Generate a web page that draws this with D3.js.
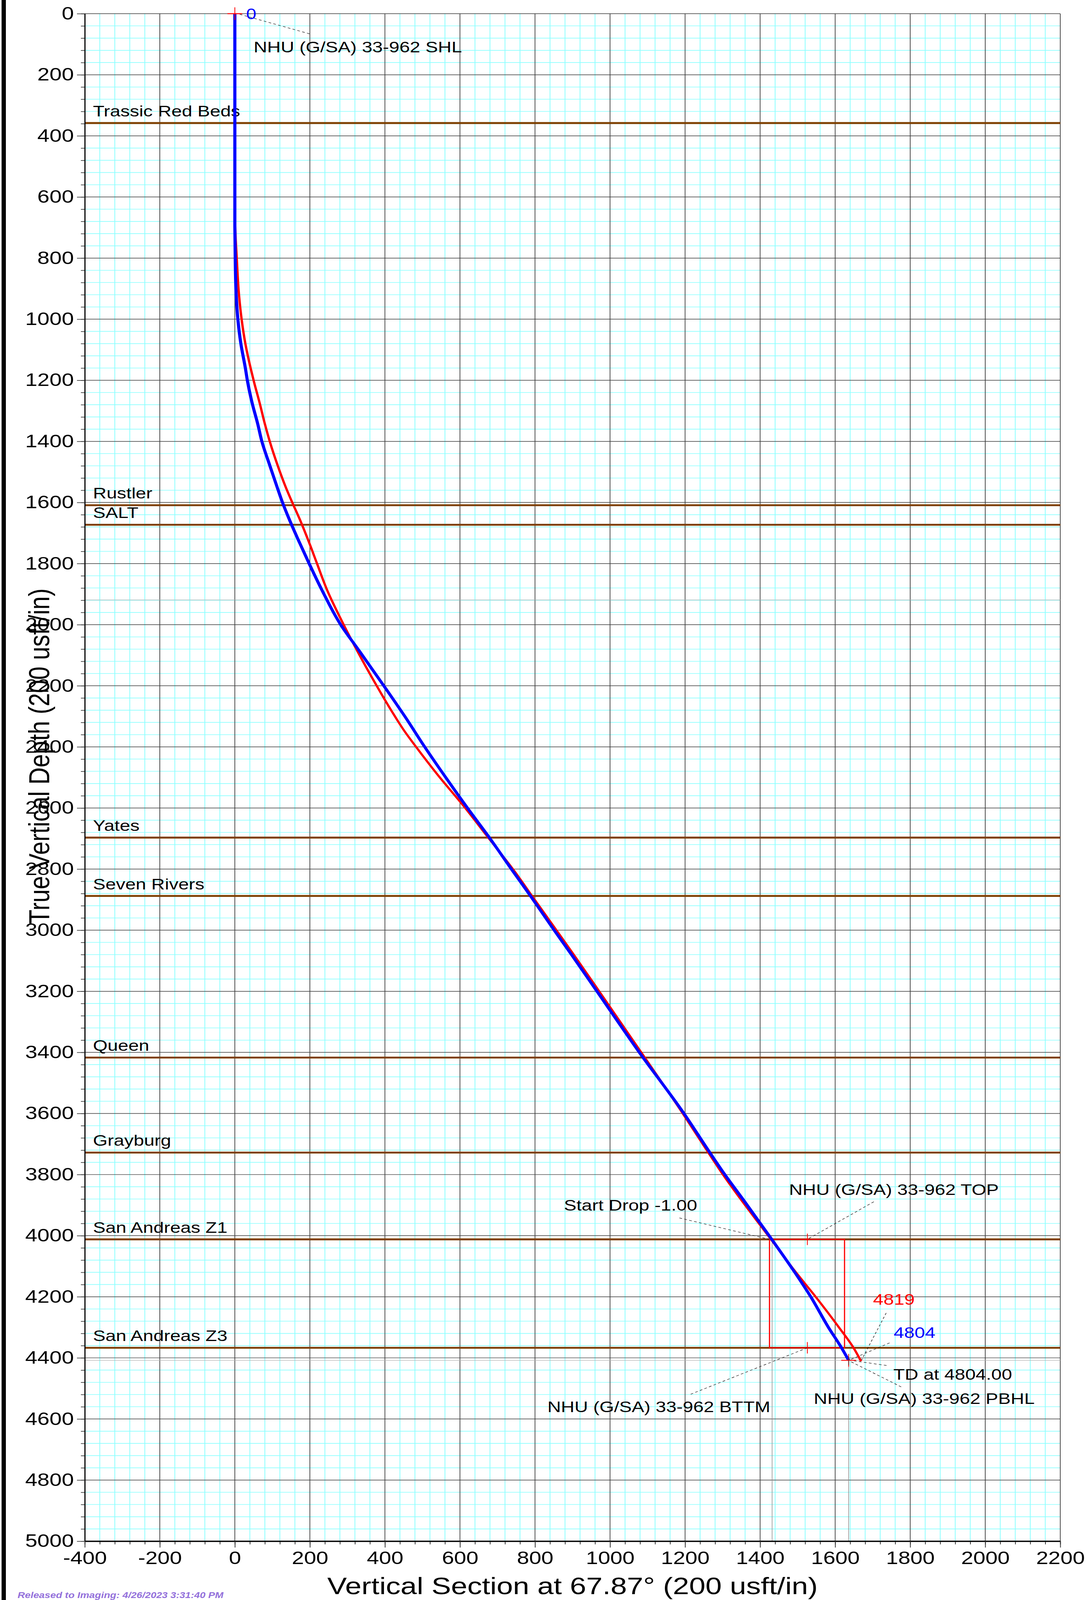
<!DOCTYPE html>
<html>
<head>
<meta charset="utf-8">
<script src="https://cdn.jsdelivr.net/npm/d3@7"></script>
<style>
  html, body { margin: 0; padding: 0; background: #ffffff; overflow: hidden; }
  svg { display: block; }
  text { font-family: "Liberation Sans", Arial, Helvetica, sans-serif; }
</style>
</head>
<body>
<svg id="chart"></svg>
<script>
// ---------------- data ----------------
const xDomain = [-400, 2200];
const yDomain = [0, 5000];
const xMajorTicks = d3.range(-400, 2201, 200);
const yMajorTicks = d3.range(0, 5001, 200);
const xMinorTicks = d3.range(-400, 2201, 40);
const yMinorTicks = d3.range(0, 5001, 40);

// planned wellpath (red): vertical section / TVD
const planVS  = [0, 0, 1, 5, 11, 18, 28, 42, 51, 66, 80, 93, 115, 136, 153, 173, 196, 219, 245, 290, 325, 378, 418, 453, 483, 539, 614, 676, 741, 792, 857, 902, 971, 1083, 1194, 1262, 1301, 1429, 1496, 1548, 1610, 1649, 1669];
const planTVD = [0, 600, 700, 800, 920, 1000, 1080, 1160, 1205, 1274, 1343, 1400, 1482, 1551, 1600, 1655, 1725, 1800, 1884, 2000, 2083, 2200, 2283, 2350, 2400, 2489, 2600, 2698, 2800, 2888, 3000, 3078, 3200, 3400, 3600, 3728, 3800, 4012, 4121, 4200, 4300, 4367, 4411];

// actual wellpath (blue)
const actualVS  = [0, 0, 0, 1, 3.5, 8, 16, 28, 34, 46, 61, 72, 94, 113, 127, 145, 170, 198, 231, 282, 330, 397, 453, 506, 562, 620, 679, 737, 788, 851, 896, 965, 1078, 1197, 1266, 1306, 1355, 1431, 1493, 1535, 1582, 1617, 1636];
const actualTVD = [0, 400, 684, 800, 920, 1000, 1080, 1160, 1205, 1274, 1343, 1400, 1482, 1551, 1600, 1655, 1725, 1800, 1884, 2000, 2083, 2200, 2300, 2400, 2500, 2600, 2698, 2800, 2888, 3000, 3078, 3200, 3400, 3600, 3728, 3800, 3882, 4012, 4121, 4200, 4300, 4367, 4408];

// formation tops
const formationNames = ["Trassic Red Beds", "Rustler", "SALT", "Yates", "Seven Rivers", "Queen", "Grayburg", "San Andreas Z1", "San Andreas Z3"];
const formationTVD   = [358, 1609, 1673, 2697, 2888, 3417, 3728, 4012, 4367];

// target box
const targetVS  = [1425, 1625];
const targetTVD = [4012, 4367];
const targetCenterVS = 1526;

// reference lines
const dropLineVS  = [1432, 1636];
const dropLineTop = [4012, 4408];
const refLineTVD  = [1919, 4408];

// end points
const actualEnd = [1636, 4408];

// annotations
const annText  = ["NHU (G/SA) 33-962 SHL", "Start Drop -1.00", "NHU (G/SA) 33-962 TOP", "4819", "4804", "TD at 4804.00", "NHU (G/SA) 33-962 PBHL", "NHU (G/SA) 33-962 BTTM"];
const annVS    = [50, 877, 1477, 1701, 1756, 1755, 1543, 833];
const annTVD   = [127, 3918, 3867, 4226, 4335, 4471, 4551, 4578];
const annFrom  = [[13, 2], [1185, 3942], [1703, 3889], [1736, 4253], [1745, 4351], [1737, 4425], [1776, 4495], [1215, 4519]];
const annTo    = [[205, 68], [1425, 4012], [1526, 4012], [1670, 4408], [1640, 4406], [1640, 4408], [1638, 4410], [1526, 4367]];
const annColor = ["#000", "#000", "#000", "#ff0000", "#0000ff", "#000", "#000", "#000"];

const startLabel = "0";
const startLabelPos = [30, 18];

const xTitle = "Vertical Section at 67.87° (200 usft/in)";
const yTitle = "True Vertical Depth (200 usft/in)";
const releaseText = "Released to Imaging: 4/26/2023 3:31:40 PM";

// ---------------- layout ----------------
const W = 2785, H = 5031;
const plot = { left: 217, right: 2714, top: 43, bottom: 4846 };

// fit the full drawing into the window that is photographed
const vw = window.innerWidth || W, vh = window.innerHeight || H;
const svg = d3.select("#chart")
  .attr("viewBox", `0 0 ${W} ${H}`)
  .attr("preserveAspectRatio", "none")
  .attr("width", vh < H ? vw : W)
  .attr("height", vh < H ? vh : H);

const x = d3.scaleLinear().domain(xDomain).range([plot.left, plot.right]);
const y = d3.scaleLinear().domain(yDomain).range([plot.top, plot.bottom]);

svg.append("rect").attr("width", W).attr("height", H).attr("fill", "#fff");
svg.append("rect").attr("x", 4).attr("y", 0).attr("width", 11).attr("height", H).attr("fill", "#000");

// minor grid
const g = svg.append("g");
g.selectAll(".vminor").data(xMinorTicks.filter(v => v % 200 !== 0)).join("line")
  .attr("x1", d => x(d)).attr("x2", d => x(d)).attr("y1", plot.top).attr("y2", plot.bottom)
  .attr("stroke", "#8cffff").attr("stroke-width", 2);
g.selectAll(".hminor").data(yMinorTicks.filter(v => v % 200 !== 0)).join("line")
  .attr("y1", d => y(d)).attr("y2", d => y(d)).attr("x1", plot.left).attr("x2", plot.right)
  .attr("stroke", "#8cffff").attr("stroke-width", 2);

// major grid
g.selectAll(".vmajor").data(xMajorTicks).join("line")
  .attr("x1", d => x(d)).attr("x2", d => x(d)).attr("y1", plot.top).attr("y2", plot.bottom)
  .attr("stroke", "#3a3a3a").attr("stroke-width", 1.8);
g.selectAll(".hmajor").data(yMajorTicks).join("line")
  .attr("y1", d => y(d)).attr("y2", d => y(d)).attr("x1", plot.left).attr("x2", plot.right)
  .attr("stroke", "#3a3a3a").attr("stroke-width", 1.8);

// reference lines
g.selectAll(".drop").data(dropLineVS).join("line")
  .attr("x1", d => x(d)).attr("x2", d => x(d))
  .attr("y1", (d, i) => y(dropLineTop[i])).attr("y2", plot.bottom)
  .attr("stroke", "#8a8a8a").attr("stroke-width", 1.5);
g.selectAll(".ref").data(refLineTVD).join("line")
  .attr("y1", d => y(d)).attr("y2", d => y(d)).attr("x1", plot.left).attr("x2", plot.right)
  .attr("stroke", "#b0b0b0").attr("stroke-width", 1.5);

// formation lines and labels
const fg = svg.append("g");
fg.selectAll("line").data(formationTVD).join("line")
  .attr("x1", plot.left).attr("x2", plot.right).attr("y1", d => y(d)).attr("y2", d => y(d))
  .attr("stroke", "#7f3f00").attr("stroke-width", 6);
fg.selectAll("text").data(formationNames).join("text")
  .attr("x", plot.left + 21).attr("y", (d, i) => y(formationTVD[i]) - 21)
  .attr("font-size", 48).attr("fill", "#000").text(d => d);

// target box
svg.append("rect")
  .attr("x", x(targetVS[0])).attr("y", y(targetTVD[0]))
  .attr("width", x(targetVS[1]) - x(targetVS[0])).attr("height", y(targetTVD[1]) - y(targetTVD[0]))
  .attr("fill", "none").attr("stroke", "#ff0000").attr("stroke-width", 3);
svg.selectAll(".tick-t").data(targetTVD).join("line")
  .attr("x1", x(targetCenterVS)).attr("x2", x(targetCenterVS))
  .attr("y1", d => y(d) - 18).attr("y2", d => y(d) + 18)
  .attr("stroke", "#ff0000").attr("stroke-width", 2);

// leaders
svg.selectAll(".leader").data(annFrom).join("line")
  .attr("x1", d => x(d[0])).attr("y1", d => y(d[1]))
  .attr("x2", (d, i) => x(annTo[i][0])).attr("y2", (d, i) => y(annTo[i][1]))
  .attr("stroke", "#222").attr("stroke-width", 1.5).attr("stroke-dasharray", "7,6");

// wells
const line = d3.line().x(d => x(d[0])).y(d => y(d[1])).curve(d3.curveMonotoneY);
const planPts = planVS.map((v, i) => [v, planTVD[i]]);
const actualPts = actualVS.map((v, i) => [v, actualTVD[i]]);
svg.append("path").datum(planPts).attr("d", line)
  .attr("fill", "none").attr("stroke", "#ff0000").attr("stroke-width", 6).attr("stroke-linejoin", "round");
svg.append("path").datum(actualPts).attr("d", line)
  .attr("fill", "none").attr("stroke", "#0000ff").attr("stroke-width", 8).attr("stroke-linejoin", "round");

// markers
function cross(pt, color) {
  svg.append("line").attr("x1", x(pt[0]) - 19).attr("x2", x(pt[0]) + 19)
    .attr("y1", y(pt[1])).attr("y2", y(pt[1])).attr("stroke", color).attr("stroke-width", 3);
  svg.append("line").attr("x1", x(pt[0])).attr("x2", x(pt[0]))
    .attr("y1", y(pt[1]) - 20).attr("y2", y(pt[1]) + 20).attr("stroke", color).attr("stroke-width", 2);
}
cross([0, 0], "#ff0000");
cross(actualEnd, "#ff0000");
svg.append("line").attr("x1", x(actualEnd[0])).attr("x2", x(actualEnd[0]))
  .attr("y1", y(actualEnd[1]) - 12).attr("y2", y(actualEnd[1]) + 15).attr("stroke", "#333").attr("stroke-width", 1.5);

// annotation texts
svg.selectAll(".ann").data(annText).join("text")
  .attr("x", (d, i) => x(annVS[i])).attr("y", (d, i) => y(annTVD[i]))
  .attr("font-size", 48).attr("fill", (d, i) => annColor[i]).text(d => d);
svg.append("text").attr("x", x(startLabelPos[0])).attr("y", y(startLabelPos[1]))
  .attr("font-size", 47).attr("fill", "#0000ff").text(startLabel);

// axes
const fmt = d => String(d);
const yAxisMinor = d3.axisLeft(y).tickValues(yMinorTicks).tickSize(10).tickSizeOuter(0).tickFormat("");
const yAxisMajor = d3.axisLeft(y).tickValues(yMajorTicks).tickSize(20).tickSizeOuter(0).tickPadding(8).tickFormat(fmt);
const xAxisMinor = d3.axisBottom(x).tickValues(xMinorTicks).tickSize(10).tickSizeOuter(0).tickFormat("");
const xAxisMajor = d3.axisBottom(x).tickValues(xMajorTicks).tickSize(20).tickSizeOuter(0).tickPadding(12).tickFormat(fmt);

function styleAxis(sel, w) {
  sel.selectAll("path.domain").attr("stroke", "#000").attr("stroke-width", w);
  sel.selectAll(".tick line").attr("stroke", "#333").attr("stroke-width", 2);
  sel.selectAll(".tick text").attr("font-size", 56).attr("fill", "#000")
    .attr("font-family", '"Liberation Sans", Arial, sans-serif');
}
const ya1 = svg.append("g").attr("transform", `translate(${plot.left},0)`).call(yAxisMinor); styleAxis(ya1, 2.5);
const ya2 = svg.append("g").attr("transform", `translate(${plot.left},0)`).call(yAxisMajor); styleAxis(ya2, 2.5);
const xa1 = svg.append("g").attr("transform", `translate(0,${plot.bottom})`).call(xAxisMinor); styleAxis(xa1, 3.5);
const xa2 = svg.append("g").attr("transform", `translate(0,${plot.bottom})`).call(xAxisMajor); styleAxis(xa2, 3.5);

// titles
svg.append("text").attr("x", (plot.left + plot.right) / 2).attr("y", 5012)
  .attr("text-anchor", "middle").attr("font-size", 75).attr("fill", "#000").text(xTitle);
svg.append("text").attr("transform", "translate(126,2378) rotate(-90)")
  .attr("text-anchor", "middle").attr("font-size", 75).attr("fill", "#000").text(yTitle);

// release stamp
svg.append("text").attr("x", 45).attr("y", 5025)
  .attr("font-family", '"Liberation Serif", "Times New Roman", serif')
  .attr("font-style", "italic").attr("font-weight", "bold")
  .attr("font-size", 26).attr("fill", "#9370db").text(releaseText);
</script>
</body>
</html>
